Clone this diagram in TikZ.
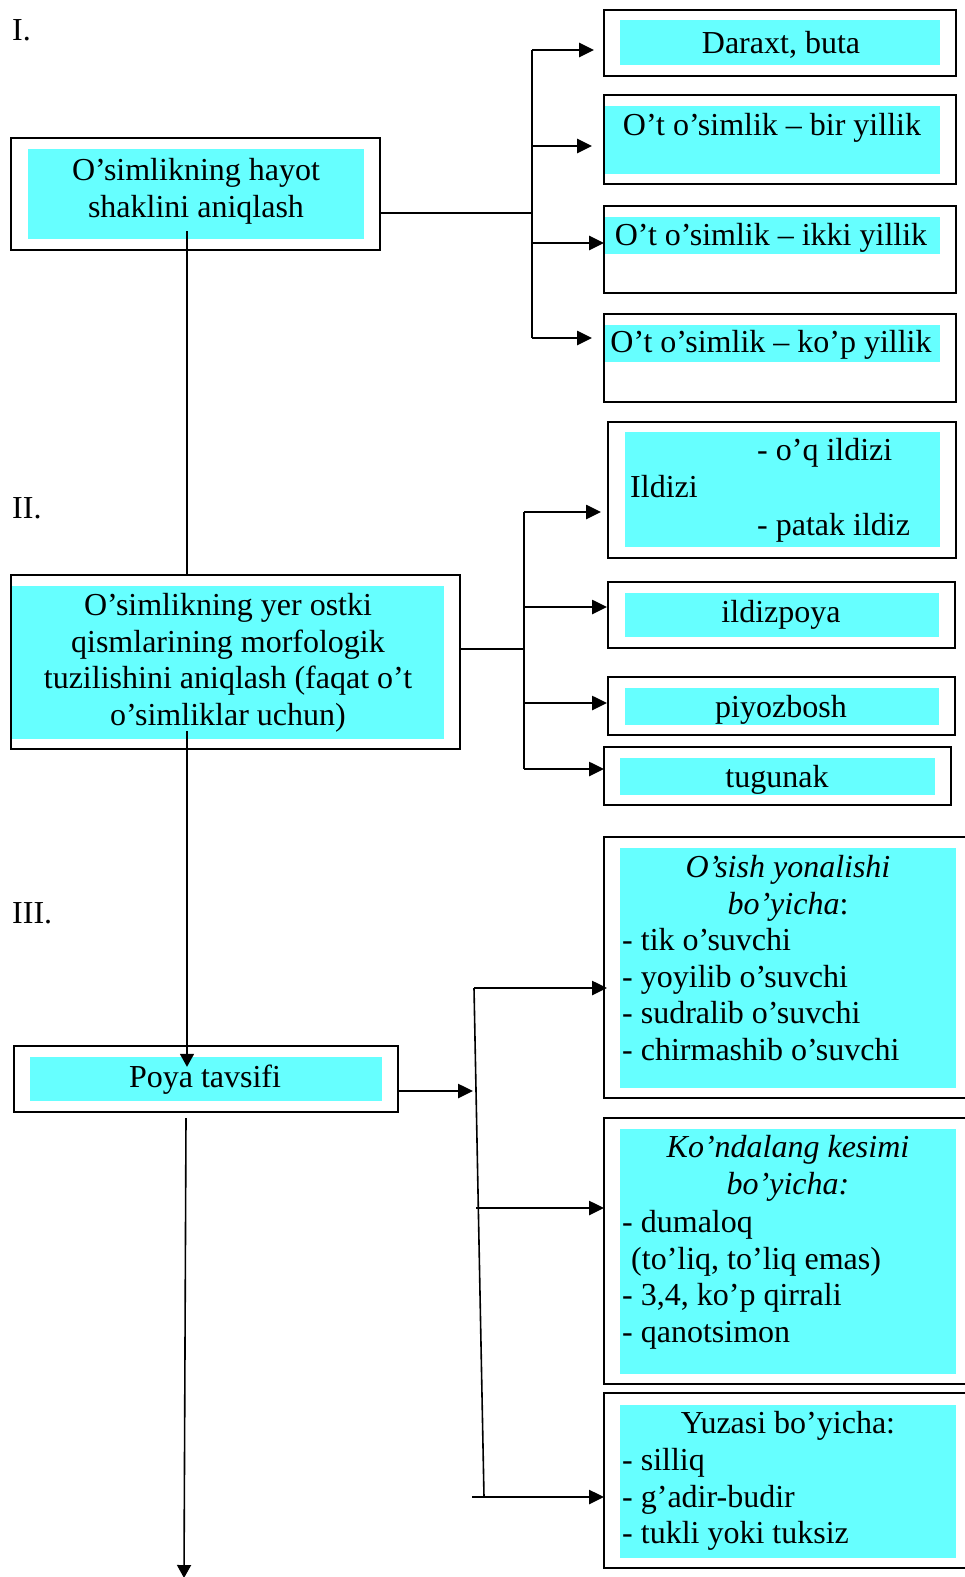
\documentclass[tikz,border=0pt]{standalone}
\usepackage{fontspec}
\setmainfont{Liberation Serif}
\usetikzlibrary{arrows.meta}
\definecolor{boxcyan}{RGB}{102,255,255}
\begin{document}
\begin{tikzpicture}[x=1pt,y=-1pt,
  frame/.style={draw, line width=2pt, inner sep=0pt},
  panel/.style={fill=boxcyan, inner sep=0pt},
  txt/.style={inner sep=0pt, font=\fontsize{32}{36.7}\selectfont},
  link/.style={line width=1.6pt},
  trunk/.style={line width=2pt},
  feed/.style={line width=2.6pt, -{Triangle[length=15pt,width=14pt]}},
  drop/.style={line width=1.6pt, -{Triangle[length=13pt,width=14pt]}},
]
\useasboundingbox (0,0) rectangle (964,1577);

% ---------- section labels ----------
\node[txt, anchor=base west] (secI) at (12,40) {I.};
\node[txt, anchor=base west] (secII) at (12,518) {II.};
\node[txt, anchor=base west] (secIII) at (12,923) {III.};

% ---------- I: life form ----------
\node[frame, minimum width=369pt, minimum height=112pt] (lifeF) at (195.5,194) {};
\node[panel, minimum width=336pt, minimum height=90pt] (lifeP) at (196,194) {};
\node[txt, align=center, anchor=north] (lifeT) at (196,158) {O’simlikning hayot\\shaklini aniqlash};

\node[frame, minimum width=352pt, minimum height=66pt] (treeF) at (780,43) {};
\node[panel, minimum width=320pt, minimum height=45pt] (treeP) at (780,42.5) {};
\node[txt, anchor=base] (treeT) at (781,53) {Daraxt, buta};

\node[frame, minimum width=352pt, minimum height=89pt] (annF) at (780,139.5) {};
\node[panel, minimum width=335pt, minimum height=68pt] (annP) at (772.5,140) {};
\node[txt, anchor=base] (annT) at (772,135) {O’t o’simlik – bir yillik};

\node[frame, minimum width=352pt, minimum height=87pt] (bienF) at (780,249.5) {};
\node[panel, minimum width=335pt, minimum height=37pt] (bienP) at (772.5,235.5) {};
\node[txt, anchor=base] (bienT) at (771,245) {O’t o’simlik – ikki yillik};

\node[frame, minimum width=352pt, minimum height=88pt] (perF) at (780,358) {};
\node[panel, minimum width=335pt, minimum height=37pt] (perP) at (772.5,343.5) {};
\node[txt, anchor=base] (perT) at (771,352) {O’t o’simlik – ko’p yillik};

\coordinate (lifeJ) at (532,213);
\coordinate (lifeA) at (532,50);
\coordinate (lifeB) at (532,146);
\coordinate (lifeC) at (532,243);
\coordinate (lifeD) at (532,338);
\draw[link] (lifeF.east |- lifeJ) -- (lifeJ);
\draw[trunk] (lifeA) -- (lifeD);
\draw[feed, shorten >=9pt] (lifeA) -- (treeF.west |- lifeA);
\draw[feed, shorten >=11pt] (lifeB) -- (annF.west |- lifeB);
\draw[feed, shorten >=-1pt] (lifeC) -- (bienF.west |- lifeC);
\draw[feed, shorten >=11pt] (lifeD) -- (perF.west |- lifeD);

% ---------- II: underground parts ----------
\node[frame, minimum width=449pt, minimum height=174pt] (rootF) at (235.5,662) {};
\node[panel, minimum width=432pt, minimum height=153pt] (rootP) at (228,662.5) {};
\node[txt, align=center, anchor=north] (rootT) at (228,593)
  {O’simlikning yer ostki\\qismlarining morfologik\\tuzilishini aniqlash (faqat o’t\\o’simliklar uchun)};

\node[frame, minimum width=348pt, minimum height=136pt] (radF) at (782,490) {};
\node[panel, minimum width=315pt, minimum height=115pt] (radP) at (782.5,489.5) {};
\node[txt, anchor=base west] (radA) at (757,460) {- o’q ildizi};
\node[txt, anchor=base west] (radT) at (630,497) {Ildizi};
\node[txt, anchor=base west] (radB) at (757,535) {- patak ildiz};

\node[frame, minimum width=347pt, minimum height=66pt] (rhizF) at (781.5,615) {};
\node[panel, minimum width=314pt, minimum height=44pt] (rhizP) at (782,615) {};
\node[txt, anchor=base] (rhizT) at (781,622) {ildizpoya};

\node[frame, minimum width=347pt, minimum height=58pt] (bulbF) at (781.5,706) {};
\node[panel, minimum width=314pt, minimum height=37pt] (bulbP) at (782,706.5) {};
\node[txt, anchor=base] (bulbT) at (781,717) {piyozbosh};

\node[frame, minimum width=347pt, minimum height=58pt] (tubF) at (777.5,776) {};
\node[panel, minimum width=315pt, minimum height=37pt] (tubP) at (777.5,776.5) {};
\node[txt, anchor=base] (tubT) at (777,787) {tugunak};

\coordinate (rootJ) at (524,649);
\coordinate (rootA) at (524,512);
\coordinate (rootB) at (524,607);
\coordinate (rootC) at (524,703);
\coordinate (rootD) at (524,769);
\draw[link] (rootF.east |- rootJ) -- (rootJ);
\draw[trunk] (rootA) -- (rootD);
\draw[feed, shorten >=6pt] (rootA) -- (radF.west |- rootA);
\draw[feed] (rootB) -- (rhizF.west |- rootB);
\draw[feed] (rootC) -- (bulbF.west |- rootC);
\draw[feed, shorten >=-1pt] (rootD) -- (tubF.west |- rootD);

% ---------- III: stem ----------
\node[frame, minimum width=384.5pt, minimum height=66pt] (poyaF) at (205.75,1079) {};
\node[panel, minimum width=352pt, minimum height=44pt] (poyaP) at (206,1079) {};
\node[txt, anchor=base] (poyaT) at (205,1087) {Poya tavsifi};

\node[frame, minimum width=368pt, minimum height=261pt] (growF) at (788,967.5) {};
\node[panel, minimum width=336pt, minimum height=240pt] (growP) at (788,968) {};
\node[txt, align=center, anchor=north] (growH) at (788,855)
  {\itshape O’sish yonalishi\\\itshape bo’yicha\upshape:};
\node[txt, align=left, anchor=north west] (growL) at (622,928)
  {- tik o’suvchi\\- yoyilib o’suvchi\\- sudralib o’suvchi\\- chirmashib o’suvchi};

\node[frame, minimum width=368pt, minimum height=266pt] (crossF) at (788,1251) {};
\node[panel, minimum width=336pt, minimum height=245pt] (crossP) at (788,1251.5) {};
\node[txt, align=center, anchor=north] (crossH) at (788,1135)
  {\itshape Ko’ndalang kesimi\\\itshape bo’yicha:};
\node[txt, align=left, anchor=north west] (crossL) at (622,1210)
  {- dumaloq\\\hspace*{9pt}(to’liq, to’liq emas)\\- 3,4, ko’p qirrali\\- qanotsimon};

\node[frame, minimum width=368pt, minimum height=175pt] (surfF) at (788,1480.5) {};
\node[panel, minimum width=336pt, minimum height=153pt] (surfP) at (788,1481.5) {};
\node[txt, anchor=base] (surfH) at (788,1433) {Yuzasi bo’yicha:};
\node[txt, align=left, anchor=north west] (surfL) at (622,1448)
  {- silliq\\- g’adir-budir\\- tukli yoki tuksiz};

\coordinate (stemIn) at (476,1091);
\coordinate (stemTop) at (474,988);
\coordinate (stemMid) at (476,1208);
\coordinate (stemBot) at (484,1497);
\coordinate (stemLow) at (472,1497);
\draw[feed, shorten >=3pt] (poyaF.east |- stemIn) -- (stemIn);
\draw[link] (stemTop) -- (stemBot);
\draw[feed, shorten >=-4pt] (stemTop) -- (growF.west |- stemTop);
\draw[feed, shorten >=-1pt] (stemMid) -- (crossF.west |- stemMid);
\draw[feed, shorten >=-1pt] (stemLow) -- (surfF.west |- stemLow);

% ---------- main vertical line ----------
\coordinate (lifeDrop) at (187,231);
\coordinate (rootDrop) at (187,731);
\coordinate (poyaDrop) at (186,1118);
\coordinate (endTip) at (184,1578);
\draw[link] (lifeDrop) -- (lifeDrop |- rootF.north);
\draw[drop, shorten >=-10pt] (rootDrop) -- (rootDrop |- poyaP.north);
\draw[drop] (poyaDrop) -- (endTip);
\end{tikzpicture}
\end{document}
